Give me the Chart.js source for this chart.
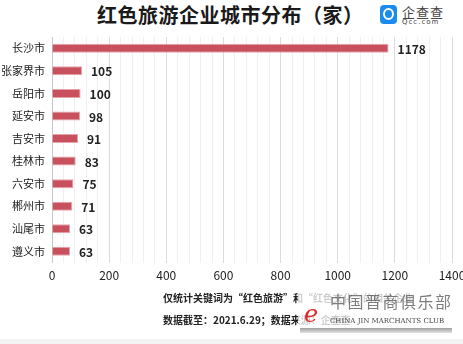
<!DOCTYPE html>
<html>
<head>
<meta charset="utf-8">
<script src="https://cdn.jsdelivr.net/npm/chart.js@4.4.0/dist/chart.umd.min.js"></script>
<style>
  html, body { margin: 0; padding: 0; background: #fff; overflow: hidden; }
  body { width: 463px; height: 344px; position: relative; font-family: "Noto Sans CJK SC", "Noto Sans", sans-serif; }
  #wrap { position: absolute; left: 0; top: 0; width: 480px; height: 292px; }
  #titolo { position: absolute; left: 97px; top: 0; font-size: 20px; font-weight: bold; color: #1a1a1a; line-height: 30px; letter-spacing: 0.5px; white-space: nowrap; }
  #logo { position: absolute; left: 380px; top: 4px; width: 80px; height: 24px; }
  #logo .ico { position: absolute; left: 0; top: 1px; width: 17px; height: 19px; background: #1a8cf0; border-radius: 4px; }
  #logo .ico span { position: absolute; left: 3px; top: 3px; width: 7px; height: 8px; border: 2px solid #fff; border-radius: 50%; }
  #logo .t1 { position: absolute; left: 22px; top: -2px; font-size: 13px; color: #444; letter-spacing: 1px; white-space: nowrap; }
  #logo .t2 { position: absolute; left: 22px; top: 14px; font-size: 7px; color: #444; letter-spacing: 1px; font-family: "DejaVu Sans", sans-serif; white-space: nowrap; }
  .nota { position: absolute; left: 163px; font-size: 10px; color: #222; font-weight: bold; white-space: nowrap; }
  #velo { position: absolute; left: 298px; top: 289px; width: 156px; height: 39px; background: rgba(255,255,255,0.78); }
  #wm1 { position: absolute; left: 330px; top: 290px; font-size: 16px; line-height: 22px; color: rgba(70,70,70,0.7); font-family: "Noto Sans CJK SC", serif; letter-spacing: 1.5px; white-space: nowrap; }
  #wme { position: absolute; left: 304px; top: 302px; font-size: 24px; color: #e0262b; font-style: italic; font-family: "DejaVu Serif", serif; line-height: 24px; }
  #wm2 { position: absolute; left: 330px; top: 317px; font-size: 7px; color: #444; font-family: "DejaVu Serif", serif; white-space: nowrap; }
  #ombra { position: absolute; left: 300px; top: 328px; width: 152px; height: 5px; background: linear-gradient(#888, #ddd); opacity: 0.8; }
  #fondo { position: absolute; left: 0; top: 339px; width: 463px; height: 5px; background: #f3f3f3; }
</style>
</head>
<body>
<div id="titolo">红色旅游企业城市分布（家）</div>
<div id="logo"><div class="ico"><span></span></div><div class="t1">企查查</div><div class="t2">Qcc.com</div></div>
<div id="wrap"><canvas id="grafico" width="480" height="292"></canvas></div>
<div class="nota" style="top:290px">仅统计关键词为“红色旅游”和“红色文化”的相关企业</div>
<div class="nota" style="top:312px">数据截至：2021.6.29；数据来源：企查查</div>
<div id="velo"></div>
<div id="wm1">中国晋商俱乐部</div>
<div id="wme">e</div>
<div id="wm2">CHINA JIN MARCHANTS CLUB</div>
<div id="ombra"></div>
<div id="fondo"></div>
<script>
// dati del grafico
var citta = ['长沙市', '张家界市', '岳阳市', '延安市', '吉安市', '桂林市', '六安市', '郴州市', '汕尾市', '遵义市'];
var numeroImprese = [1178, 105, 100, 98, 91, 83, 75, 71, 63, 63];
var tickMax = 1400;
var tickStep = 40;
var tickEtichetta = 200;

// plugin per scrivere il valore alla fine di ogni barra
var etichetteValori = {
    id: 'etichetteValori',
    afterDatasetsDraw: function (chart) {
        var ctx = chart.ctx;
        var meta = chart.getDatasetMeta(0);
        ctx.save();
        ctx.font = 'bold 12px "Noto Sans CJK SC", sans-serif';
        ctx.fillStyle = '#222';
        ctx.textBaseline = 'middle';
        ctx.textAlign = 'left';
        for (var i = 0; i < meta.data.length; i++) {
            var barra = meta.data[i];
            ctx.fillText(numeroImprese[i], barra.x + 9, barra.y + 1);
        }
        ctx.restore();
    }
};

var chartBar = new Chart(document.getElementById('grafico'), {
    type: 'bar',
    data: {
        labels: citta,
        datasets: [{
            data: numeroImprese,
            backgroundColor: '#c9505d',
            borderColor: '#e6a3aa',
            borderWidth: 1,
            barPercentage: 0.8,
            categoryPercentage: 0.5
        }]
    },
    options: {
        indexAxis: 'y',
        responsive: false,
        animation: false,
        events: [],
        layout: { padding: { top: 37, right: 28, left: 0, bottom: 3 } },
        plugins: { legend: { display: false }, tooltip: { enabled: false } },
        scales: {
            x: {
                min: 0,
                max: tickMax,
                ticks: {
                    stepSize: tickStep,
                    autoSkip: false,
                    maxRotation: 0,
                    padding: 6,
                    color: '#222',
                    font: { size: 12, family: '"Noto Sans CJK SC", sans-serif' },
                    callback: function (v) { return v % tickEtichetta === 0 ? v : ''; }
                },
                grid: {
                    drawTicks: false,
                    color: function (c) {
                        if (c.tick && c.tick.value === 0) return '#c8c8c8';
                        return c.tick && c.tick.value % tickEtichetta === 0 ? '#dcdcdc' : '#f0f0f0';
                    }
                },
                border: { display: false }
            },
            y: {
                afterFit: function (scala) { scala.width = 52; },
                ticks: {
                    color: '#222',
                    padding: 7,
                    font: { size: 11, family: '"Noto Sans CJK SC", sans-serif' }
                },
                grid: { display: false, drawTicks: false },
                border: { display: false }
            }
        }
    },
    plugins: [etichetteValori]
});
</script>
</body>
</html>
